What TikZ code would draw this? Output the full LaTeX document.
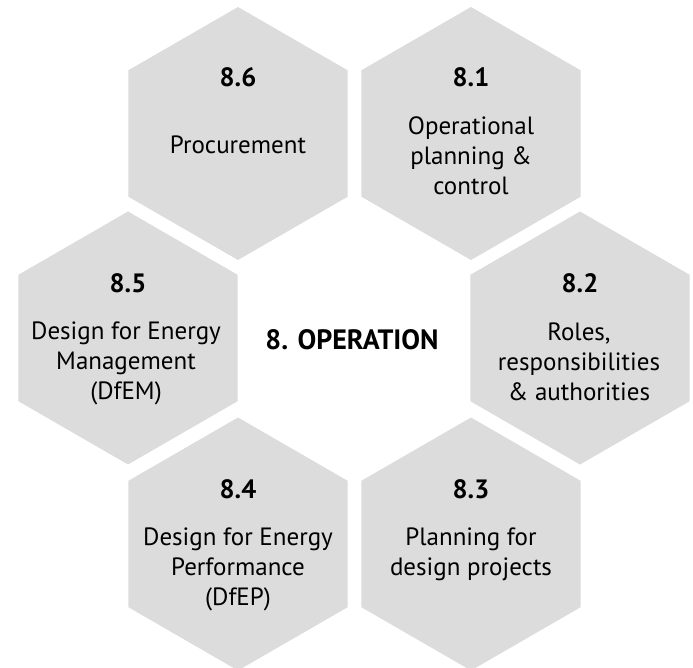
\documentclass[tikz,border=0pt]{standalone}
\usepackage{fontspec}
\setmainfont{PT Sans}
\usetikzlibrary{shapes.geometric}
\definecolor{hexgrey}{HTML}{DCDCDC}
\begin{document}
\begin{tikzpicture}[x=1pt,y=-1pt,
  hexcell/.style={regular polygon, regular polygon sides=6, shape border rotate=30,
    minimum size=253pt, inner sep=0pt, fill=hexgrey, draw=none},
  numlabel/.style={anchor=base, font=\fontsize{26.5}{30}\selectfont\bfseries, inner sep=0pt},
  bodytext/.style={anchor=base, align=center, font=\fontsize{25}{30}\selectfont, inner sep=0pt},
  titletext/.style={anchor=base, font=\fontsize{28}{30}\selectfont\bfseries, inner sep=0pt}
]
\useasboundingbox (0,0) rectangle (693,668);
% hexagons
\node[hexcell] (h86) at (238,133.5) {};
\node[hexcell] (h81) at (471,133.5) {};
\node[hexcell] (h85) at (128,338) {};
\node[hexcell] (h82) at (580,338) {};
\node[hexcell] (h84) at (238,544) {};
\node[hexcell] (h83) at (471,544) {};
% center title
\node[titletext] (title) at (352,349.3) {8. OPERATION};
% labels (multi-line text: base anchor = baseline of last line)
\node[numlabel] (n86) at (238,86.7) {8.6};
\node[bodytext] (t86) at (238,154) {Procurement};
\node[numlabel] (n81) at (471,86.7) {8.1};
\node[bodytext] (t81) at (471,195) {Operational\\planning \&\\control};
\node[numlabel] (n85) at (128,292) {8.5};
\node[bodytext] (t85) at (126,399) {Design for Energy\\Management\\(DfEM)};
\node[numlabel] (n82) at (580,292.5) {8.2};
\node[bodytext] (t82) at (579,400) {Roles,\\responsibilities\\\& authorities};
\node[numlabel] (n84) at (238,498) {8.4};
\node[bodytext] (t84) at (238,605) {Design for Energy\\Performance\\(DfEP)};
\node[numlabel] (n83) at (471,498) {8.3};
\node[bodytext] (t83) at (471,575.7) {Planning for\\design projects};
\end{tikzpicture}
\end{document}
